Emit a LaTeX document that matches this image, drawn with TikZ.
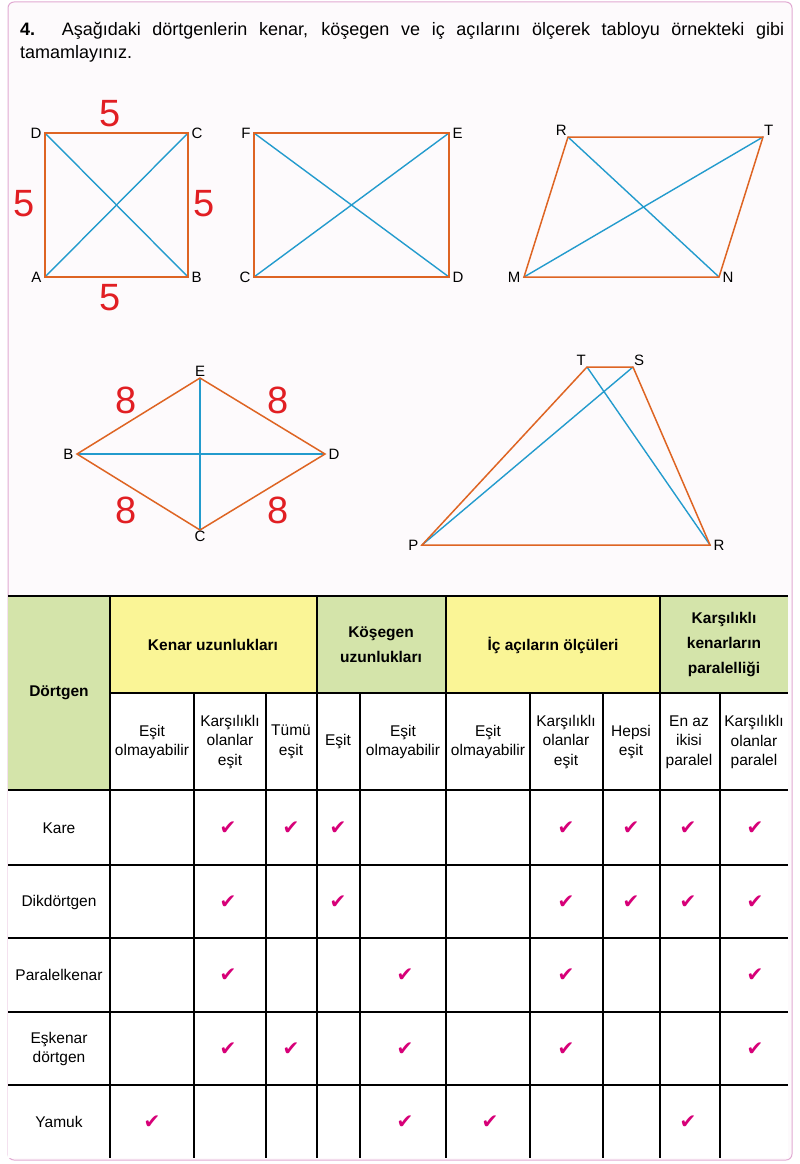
\documentclass[tikz,border=0pt]{standalone}
\usepackage{fontspec}
\setmainfont{Liberation Sans}
\newfontfamily\symf{DejaVu Sans}
\definecolor{org}{RGB}{222,100,35}
\definecolor{blu}{RGB}{35,155,205}
\definecolor{rd}{RGB}{225,30,35}
\definecolor{mg}{RGB}{215,0,120}
\definecolor{yel}{RGB}{250,245,150}
\definecolor{grn}{RGB}{212,228,170}
\definecolor{pnk}{RGB}{225,170,210}
\definecolor{bgp}{RGB}{253,250,252}
\tikzset{edge/.style={draw=org,line width=1.5pt},diag/.style={draw=blu,line width=1.4pt},
lab/.style={font=\fontsize{15}{15}\selectfont},
num/.style={text=rd,font=\fontsize{38}{38}\selectfont},
cell/.style={align=center,font=\fontsize{15.5}{19.5}\selectfont,inner sep=0pt},
head/.style={align=center,font=\bfseries\fontsize{15.5}{25}\selectfont},
chk/.style={text=mg,font=\symf\fontsize{20}{20}\selectfont}}
\begin{document}
\begin{tikzpicture}[x=1pt,y=-1pt]
\useasboundingbox (0,0) rectangle (800,1164);
\draw[pnk,fill=bgp,line width=1pt,rounded corners=6pt] (8,2) rectangle (792,1160);
\node[anchor=north west,text width=764pt,inner sep=0pt,align=justify,font=\fontsize{18}{23}\selectfont] (title) at (20,22) {\hyphenpenalty=10000 \textbf{4.} Aşağıdaki dörtgenlerin kenar, köşegen ve iç açılarını ölçerek tabloyu örnekteki gibi \mbox{tamamlayınız.}};
% square
\coordinate (A) at (45,277); \coordinate (B) at (188,277); \coordinate (C) at (188,133); \coordinate (D) at (45,133);
\draw[diag] (A)--(C) (B)--(D); \draw[edge] (A)--(B)--(C)--(D)--cycle;
\node[lab,left] at (A) {A}; \node[lab,right] at (B) {B}; \node[lab,right] at (C) {C}; \node[lab,left] at (D) {D};
\node[num] (n1) at (110,114) {5}; \node[num] (n2) at (110,298) {5}; \node[num] (n3) at (24,204) {5}; \node[num] (n4) at (204,204) {5};
% rectangle
\coordinate (F) at (254,133); \coordinate (E) at (449,133); \coordinate (C2) at (254,277); \coordinate (D2) at (449,277);
\draw[diag] (F)--(D2) (E)--(C2); \draw[edge] (F)--(E)--(D2)--(C2)--cycle;
\node[lab,left] at (F) {F}; \node[lab,right] at (E) {E}; \node[lab,left] at (C2) {C}; \node[lab,right] at (D2) {D};
% parallelogram
\coordinate (R) at (568,137); \coordinate (T) at (763,137); \coordinate (M) at (524,277); \coordinate (N) at (719,277);
\draw[diag] (R)--(N) (M)--(T); \draw[edge] (R)--(T)--(N)--(M)--cycle;
\node[lab,above left,inner sep=1pt] at (R) {R}; \node[lab,above right,inner sep=1pt] at (T) {T}; \node[lab,left] at (M) {M}; \node[lab,right] at (N) {N};
% rhombus
\coordinate (E3) at (200,378); \coordinate (B3) at (77,454); \coordinate (D3) at (325,454); \coordinate (C3) at (200,530);
\draw[diag] (E3)--(C3) (B3)--(D3); \draw[edge] (E3)--(D3)--(C3)--(B3)--cycle;
\node[lab,above,inner sep=1pt] at (E3) {E}; \node[lab,left] at (B3) {B}; \node[lab,right] at (D3) {D}; \node[lab,below,inner sep=1pt] at (C3) {C};
\node[num] (m1) at (126,400) {8}; \node[num] (m2) at (278,400) {8}; \node[num] (m3) at (126,510) {8}; \node[num] (m4) at (278,510) {8};
% trapezoid
\coordinate (T4) at (587,367); \coordinate (S4) at (633,367); \coordinate (P4) at (422,545); \coordinate (R4) at (710,545);
\draw[diag] (T4)--(R4) (S4)--(P4); \draw[edge] (T4)--(S4)--(R4)--(P4)--cycle;
\node[lab,above left,inner sep=1pt] at (T4) {T}; \node[lab,above right,inner sep=1pt] at (S4) {S}; \node[lab,left] at (P4) {P}; \node[lab,right] at (R4) {R};
% table
\fill[grn] (8,596) rectangle (110,790);
\fill[yel] (110,596) rectangle (317,693); \fill[grn] (317,596) rectangle (446,693);
\fill[yel] (446,596) rectangle (660,693); \fill[grn] (660,596) rectangle (788,693);
\fill[white] (110,693) rectangle (788,1158); \fill[white] (8,790) rectangle (110,1158);
\draw[line width=1.5pt] (8,596)--(788,596);
\draw[line width=1.3pt] (110,693)--(788,693);
\foreach \y in {790,865,938,1012,1085} \draw[line width=1.3pt] (8,\y)--(788,\y);
\foreach \x in {110,317,446,660} \draw[line width=1.3pt] (\x,596)--(\x,1158);
\foreach \x in {194,266,360,530,603,720} \draw[line width=1.3pt] (\x,693)--(\x,1158);
\node[head] (h0) at (59,693) {Dörtgen};
\node[head] (h1) at (213,645) {Kenar uzunlukları};
\node[head] (h2) at (381,645) {Köşegen\\uzunlukları};
\node[head] (h3) at (553,645) {İç açıların ölçüleri};
\node[head] (h4) at (724,645) {Karşılıklı\\kenarların\\paralelliği};
\foreach \x/\t [count=\i] in {152/{Eşit\\olmayabilir},230/{Karşılıklı\\olanlar\\eşit},291/{Tümü\\eşit},338/{Eşit},403/{Eşit\\olmayabilir},488/{Eşit\\olmayabilir},566/{Karşılıklı\\olanlar\\eşit},631/{Hepsi\\eşit},689/{En az\\ikisi\\paralel},754/{Karşılıklı\\olanlar\\paralel}}
  \node[cell] (s\i) at (\x,742) {\t};
\node[cell] (r1) at (59,828) {Kare};
\node[cell] (r2) at (59,902) {Dikdörtgen};
\node[cell] (r3) at (59,975) {Paralelkenar};
\node[cell] (r4) at (59,1049) {Eşkenar\\dörtgen};
\node[cell] (r5) at (59,1122) {Yamuk};
\def\cx#1{\ifcase#1\or152\or228\or291\or338\or405\or490\or566\or631\or688\or755\fi}
\foreach \r/\y/\list in {1/828/{2,3,4,7,8,9,10},2/902/{2,4,7,8,9,10},3/975/{2,5,7,10},4/1049/{2,3,5,7,10},5/1122/{1,5,6,9}}
  \foreach \c in \list \node[chk] (k\r-\c) at (\cx{\c},\y) {✔};
\end{tikzpicture}
\end{document}
